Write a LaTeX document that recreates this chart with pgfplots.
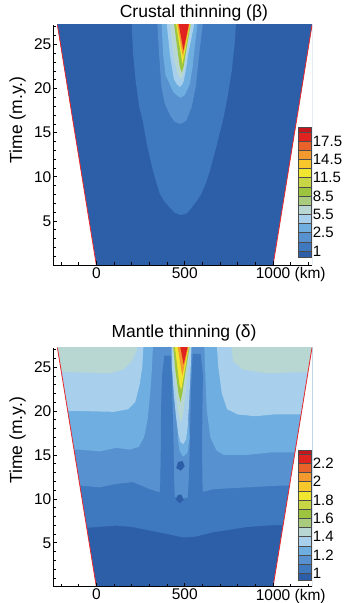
\documentclass[border=0pt]{standalone}
\usepackage{pgfplots}
\pgfplotsset{compat=1.18}
\usepackage{fontspec}
\setmainfont{Liberation Sans}
\definecolor{cb0}{HTML}{2D5FA8}
\definecolor{cb1}{HTML}{3E78BE}
\definecolor{cb2}{HTML}{5791CF}
\definecolor{cb3}{HTML}{6EAEE0}
\definecolor{cb4}{HTML}{A8D0EC}
\definecolor{cb5}{HTML}{B8D7D3}
\definecolor{cb6}{HTML}{A9CB7E}
\definecolor{cb7}{HTML}{9CC43F}
\definecolor{cb8}{HTML}{C8D645}
\definecolor{cb9}{HTML}{F0E52F}
\definecolor{cb10}{HTML}{F8C72C}
\definecolor{cb11}{HTML}{F29A2E}
\definecolor{cb12}{HTML}{E9622A}
\definecolor{cb13}{HTML}{E0231F}
\definecolor{cb14}{HTML}{C5161D}
\definecolor{edge}{HTML}{E8262B}
\pgfplotsset{
  mainax/.style={scale only axis, width=259pt, xmin=-245, xmax=1220, ymin=0, ymax=27.2,
    axis x line*=bottom, axis y line*=left, axis on top, tick align=inside,
    xtick={0,500,1000}, xticklabels={0,500,{1000\rlap{ (km)}}},
    minor xtick={-200,-100,100,200,300,400,600,700,800,900,1100,1200},
    ytick={5,10,15,20,25}, yticklabels={5,10,15,20,25},
    minor ytick={1,...,27},
    major tick length=4pt, minor tick length=3pt,
    tick style={black, line width=0.6pt},
    axis line style={line width=0.8pt},
    tick label style={font=\fontsize{15.5}{16}\selectfont},
    xticklabel style={inner ysep=2pt},
    yticklabel style={inner xsep=1.5pt},
    label style={font=\fontsize{17.5}{18}\selectfont},
    title style={font=\fontsize{17.5}{18}\selectfont},
    ylabel={Time (m.y.)},
    /pgf/number format/assume math mode=true},
  cbax/.style={scale only axis, width=12.4pt, height=130pt, xmin=0, xmax=1, ymin=0.27, ymax=14.45,
    axis x line=none, axis y line*=right, axis line style={draw=none}, clip=false,
    ytick={1,3,5,7,9,11,13}, major tick length=0pt,
    yticklabel style={font=\fontsize{15}{16}\selectfont, inner xsep=2pt}},
  band/.style={draw=black!70, line width=0.4pt}
}
\begin{document}
\begin{tikzpicture}
\path[use as bounding box] (0pt,0pt) rectangle (347pt,603pt);
% ---------------- top panel ----------------
\begin{axis}[mainax, at={(53pt,338pt)}, anchor=south west, height=240pt,
  title={Crustal thinning (β)}, title style={at={(axis description cs:0.544,1)}, anchor=center, yshift=5.7pt},
  ylabel style={at={(axis description cs:-0.137,0.604)}, anchor=center}]
\addplot[fill=cb0,draw=none] coordinates {(-300,-1) (1300,-1) (1300,28) (-300,28)} -- cycle;
\addplot[fill=cb1,draw=none] coordinates {(200,28) (200,27.3) (208,24) (222,21) (242,18) (262,16.4) (288,13.5) (320,10.7) (340,9.3) (359,8.1) (385,7.2) (416,6.5) (445,5.9) (480,5.65) (512,5.85) (539,6.5) (570,7.3) (595,8.1) (620,9.3) (643,10.7) (680,13.5) (716,16.4) (742,19) (766,22) (782,25) (790,27.3) (790,28)} -- cycle;
\addplot[fill=cb2,draw=none] coordinates {(344,28) (346,27) (355,23.9) (368,20.2) (387,18.3) (416,17.0) (440,16.3) (469,16.0) (490,16.1) (510,16.4) (539,17.9) (563,20.2) (582,23.9) (601,27.1) (602,28)} -- cycle;
\addplot[fill=cb3,draw=none] coordinates {(368,28) (370,27) (378,23.9) (392,21.5) (406,20.9) (435,19.6) (469,19.0) (485,19.0) (501,19.3) (529,20.5) (545,22.5) (552,23.9) (571,27.1) (572,28)} -- cycle;
\addplot[fill=cb4,draw=none] coordinates {(397,28) (400,27) (416,23.9) (438,21.1) (455,20.5) (472,20.2) (485,20.4) (495,20.9) (510,22.5) (520,23.9) (552,27.1) (553,28)} -- cycle;
\addplot[fill=cb5,draw=none] coordinates {(416,28) (420,27) (435,24) (455,22) (470,21.3) (480,21.1) (492,21.6) (505,23) (520,25) (545,28)} -- cycle;
\addplot[fill=cb7,draw=none] coordinates {(436,28) (455,25) (472,22.5) (484,21.8) (494,22.5) (510,24.5) (540,28)} -- cycle;
\addplot[fill=cb9,draw=none] coordinates {(446,28) (465,25.5) (487,22.8) (500,24) (537,28)} -- cycle;
\addplot[fill=cb11,draw=none] coordinates {(452,28) (490,23.6) (534,28)} -- cycle;
\addplot[fill=cb13,draw=none] coordinates {(460,28) (493,24.3) (531,28)} -- cycle;
\addplot[fill=white,draw=none] coordinates {(-300,-1) (8.1,-1) (-228.1,28) (-300,28)} -- cycle;
\addplot[fill=white,draw=none] coordinates {(1300,-1) (991.9,-1) (1228.1,28) (1300,28)} -- cycle;
\addplot[edge, line width=0.8pt] coordinates {(0,0) (-220,27.2)};
\addplot[edge, line width=0.8pt] coordinates {(1000,0) (1220,27.2)};
\end{axis}
\begin{axis}[cbax, at={(298.3pt,345.3pt)}, anchor=south west,
  yticklabels={1,2.5,5.5,8.5,11.5,14.5,17.5}]
\addplot[band,fill=cb0] coordinates {(0,0.27) (1,0.27) (1,1) (0,1)} -- cycle;
\addplot[band,fill=cb1] coordinates {(0,1) (1,1) (1,2) (0,2)} -- cycle;
\addplot[band,fill=cb2] coordinates {(0,2) (1,2) (1,3) (0,3)} -- cycle;
\addplot[band,fill=cb3] coordinates {(0,3) (1,3) (1,4) (0,4)} -- cycle;
\addplot[band,fill=cb4] coordinates {(0,4) (1,4) (1,5) (0,5)} -- cycle;
\addplot[band,fill=cb5] coordinates {(0,5) (1,5) (1,6) (0,6)} -- cycle;
\addplot[band,fill=cb6] coordinates {(0,6) (1,6) (1,7) (0,7)} -- cycle;
\addplot[band,fill=cb7] coordinates {(0,7) (1,7) (1,8) (0,8)} -- cycle;
\addplot[band,fill=cb8] coordinates {(0,8) (1,8) (1,9) (0,9)} -- cycle;
\addplot[band,fill=cb9] coordinates {(0,9) (1,9) (1,10) (0,10)} -- cycle;
\addplot[band,fill=cb10] coordinates {(0,10) (1,10) (1,11) (0,11)} -- cycle;
\addplot[band,fill=cb11] coordinates {(0,11) (1,11) (1,12) (0,12)} -- cycle;
\addplot[band,fill=cb12] coordinates {(0,12) (1,12) (1,13) (0,13)} -- cycle;
\addplot[band,fill=cb13] coordinates {(0,13) (1,13) (1,14) (0,14)} -- cycle;
\addplot[band,fill=cb14] coordinates {(0,14) (1,14) (1,14.45) (0,14.45)} -- cycle;
\end{axis}
% ---------------- bottom panel ----------------
\begin{axis}[mainax, at={(53pt,16.3pt)}, anchor=south west, height=239pt,
  title={Mantle thinning (δ)}, title style={at={(axis description cs:0.506,1)}, anchor=center, yshift=8.4pt},
  ylabel style={at={(axis description cs:-0.137,0.612)}, anchor=center}]
\addplot[fill=cb0,draw=none] coordinates {(-300,-1) (1300,-1) (1300,28) (-300,28)} -- cycle;
\addplot[fill=cb1,draw=none] coordinates {(-300,28) (-300,6.8) (-57,6.7) (113,6.95) (200,6.8) (302,6.4) (400,6.0) (491,5.6) (560,5.7) (662,6.2) (760,6.5) (851,6.8) (1000,7.0) (1300,7.0) (1300,28)} -- cycle;
\addplot[fill=cb2,draw=none] coordinates {(-300,28) (-300,11.5) (-85,11.5) (19,11.3) (113,11.7) (208,11.9) (302,11.1) (397,10.5) (491,10.0) (586,10.7) (662,11.1) (851,11.3) (1040,11.5) (1300,11.5) (1300,28)} -- cycle;
\addplot[fill=cb3,draw=none] coordinates {(-300,28) (-300,15.5) (-95,15.6) (19,15.4) (113,15.8) (189,15.6) (240,15.9) (270,17) (290,19) (305,22) (315,25) (322,28)} -- cycle;
\addplot[fill=cb3,draw=none] coordinates {(610,28) (615,25) (625,20) (645,17) (680,15.5) (720,15.0) (851,15.0) (1000,15.3) (1300,15.3) (1300,28)} -- cycle;
\addplot[fill=cb4,draw=none] coordinates {(-300,28) (-300,20) (-100,20) (100,19.9) (180,20.2) (220,21) (245,23) (260,25) (268,28)} -- cycle;
\addplot[fill=cb4,draw=none] coordinates {(680,28) (690,25) (710,22) (740,20.2) (800,19.6) (900,19.4) (1000,19.6) (1300,19.6) (1300,28)} -- cycle;
\addplot[fill=cb5,draw=none] coordinates {(-300,28) (-300,24.5) (75,24.3) (151,24.7) (198,25.6) (227,26.8) (235,28)} -- cycle;
\addplot[fill=cb5,draw=none] coordinates {(760,28) (775,25.6) (832,24.7) (964,24.3) (1300,24.5) (1300,28)} -- cycle;
% low stripes
\addplot[fill=cb1,draw=none] coordinates {(355,9.0) (362,12) (365,16) (366,20) (372,24) (385,26.3) (420,26.3) (428,24) (432,20) (437,16) (440,12) (445,9.5) (430,8.5) (390,8.5)} -- cycle;
\addplot[fill=cb1,draw=none] coordinates {(515,9) (525,13) (530,17) (535,22) (545,26.5) (590,26.5) (603,24) (600,20) (598,16) (600,12) (605,9.5) (580,8.5)} -- cycle;
\addplot[fill=cb0,draw=none] coordinates {(450,9.9) (472,9.5) (495,9.9) (480,10.5) (460,10.4)} -- cycle;
\addplot[fill=cb0,draw=none] coordinates {(452,13.5) (478,13.2) (500,13.7) (488,14.3) (462,14.2)} -- cycle;
% central high
\addplot[fill=cb3,draw=none] coordinates {(460,17) (470,15.5) (490,14.8) (515,15.2) (528,17) (520,19) (470,19)} -- cycle;
\addplot[fill=cb4,draw=none] coordinates {(425,28) (428,25) (438,22) (450,19.5) (462,17.5) (475,16.5) (492,16.2) (508,16.8) (518,18.5) (525,21) (532,24) (540,28)} -- cycle;
\addplot[fill=cb5,draw=none] coordinates {(428,28) (440,24) (455,21) (468,19.2) (478,18.7) (490,19.5) (505,22) (520,25) (537,28)} -- cycle;
\addplot[fill=cb7,draw=none] coordinates {(432,28) (448,24.5) (465,22) (476,21.0) (486,22) (505,24.5) (533,28)} -- cycle;
\addplot[fill=cb9,draw=none] coordinates {(440,28) (470,23) (480,22.4) (495,24) (530,28)} -- cycle;
\addplot[fill=cb11,draw=none] coordinates {(455,28) (486,24.0) (528,28)} -- cycle;
\addplot[fill=cb13,draw=none] coordinates {(468,28) (494,25.3) (525,28)} -- cycle;
\addplot[fill=white,draw=none] coordinates {(-300,-1) (8.1,-1) (-228.1,28) (-300,28)} -- cycle;
\addplot[fill=white,draw=none] coordinates {(1300,-1) (991.9,-1) (1228.1,28) (1300,28)} -- cycle;
\addplot[edge, line width=0.8pt] coordinates {(0,0) (-220,27.2)};
\addplot[edge, line width=0.8pt] coordinates {(1000,0) (1220,27.2)};
\end{axis}
\begin{axis}[cbax, at={(298.3pt,23pt)}, anchor=south west,
  yticklabels={1,1.2,1.4,1.6,1.8,2,2.2}]
\addplot[band,fill=cb0] coordinates {(0,0.27) (1,0.27) (1,1) (0,1)} -- cycle;
\addplot[band,fill=cb1] coordinates {(0,1) (1,1) (1,2) (0,2)} -- cycle;
\addplot[band,fill=cb2] coordinates {(0,2) (1,2) (1,3) (0,3)} -- cycle;
\addplot[band,fill=cb3] coordinates {(0,3) (1,3) (1,4) (0,4)} -- cycle;
\addplot[band,fill=cb4] coordinates {(0,4) (1,4) (1,5) (0,5)} -- cycle;
\addplot[band,fill=cb5] coordinates {(0,5) (1,5) (1,6) (0,6)} -- cycle;
\addplot[band,fill=cb6] coordinates {(0,6) (1,6) (1,7) (0,7)} -- cycle;
\addplot[band,fill=cb7] coordinates {(0,7) (1,7) (1,8) (0,8)} -- cycle;
\addplot[band,fill=cb8] coordinates {(0,8) (1,8) (1,9) (0,9)} -- cycle;
\addplot[band,fill=cb9] coordinates {(0,9) (1,9) (1,10) (0,10)} -- cycle;
\addplot[band,fill=cb10] coordinates {(0,10) (1,10) (1,11) (0,11)} -- cycle;
\addplot[band,fill=cb11] coordinates {(0,11) (1,11) (1,12) (0,12)} -- cycle;
\addplot[band,fill=cb12] coordinates {(0,12) (1,12) (1,13) (0,13)} -- cycle;
\addplot[band,fill=cb13] coordinates {(0,13) (1,13) (1,14) (0,14)} -- cycle;
\addplot[band,fill=cb14] coordinates {(0,14) (1,14) (1,14.45) (0,14.45)} -- cycle;
\end{axis}
\end{tikzpicture}
\end{document}
